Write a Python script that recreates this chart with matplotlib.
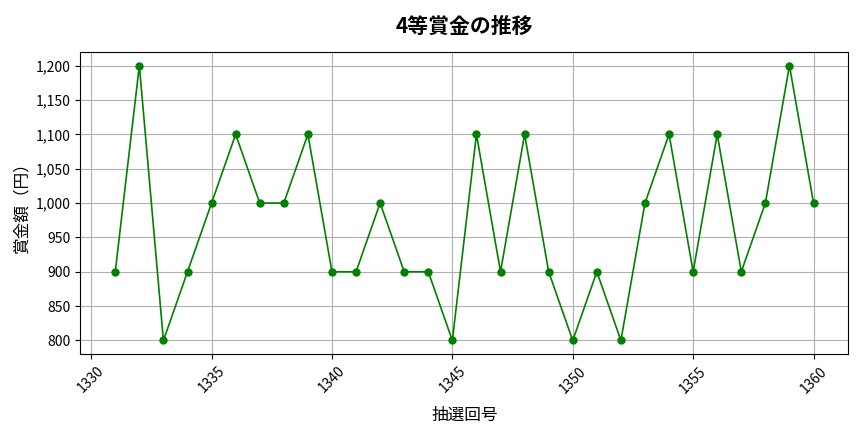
import matplotlib
matplotlib.use("Agg")
import matplotlib.pyplot as plt
from matplotlib.ticker import FuncFormatter

plt.rcParams['font.family'] = ['Noto Sans CJK JP', 'DejaVu Sans']

draws = list(range(1331, 1361))
prize = [900, 1200, 800, 900, 1000, 1100, 1000, 1000, 1100, 900,
         900, 1000, 900, 900, 800, 1100, 900, 1100, 900, 800,
         900, 800, 1000, 1100, 900, 1100, 900, 1000, 1200, 1000]

fig, ax = plt.subplots(figsize=(8.64, 4.32), dpi=100)
ax.plot(draws, prize, marker='o', color='green', markersize=5, linewidth=1.2)
ax.set_title('4等賞金の推移', fontsize=15, fontweight='bold', pad=14)
ax.set_xlabel('抽選回号', fontsize=12, labelpad=8)
ax.set_ylabel('賞金額（円）', fontsize=12)
ax.yaxis.set_major_formatter(FuncFormatter(lambda v, p: f'{int(v):,}'))
ax.tick_params(axis='x', labelrotation=45)
ax.grid(True, color='#b0b0b0', linewidth=0.8)
fig.subplots_adjust(left=0.093, right=0.982, top=0.88, bottom=0.18)
fig.savefig('out.png', dpi=100)
